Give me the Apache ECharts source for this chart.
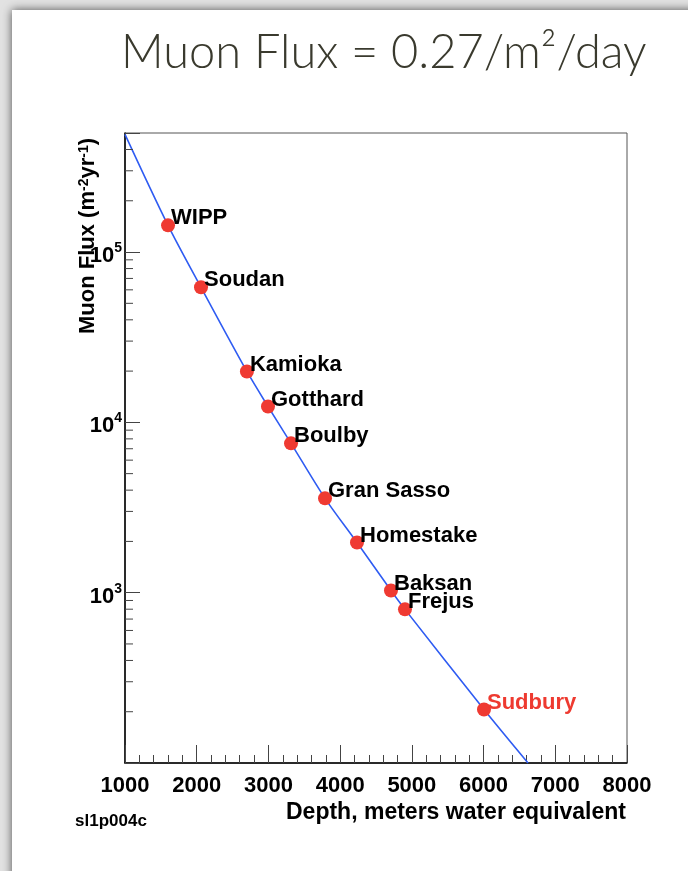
<!DOCTYPE html>
<html><head><meta charset="utf-8">
<script src="https://cdn.jsdelivr.net/npm/echarts/dist/echarts.min.js"></script>
<style>
html,body{margin:0;padding:0;background:#e2e2e2;overflow:hidden}
#card{position:absolute;left:12px;top:10px;width:720px;height:900px;background:#fff;box-shadow:0 0 9px rgba(0,0,0,0.65)}
#c{position:absolute;left:0;top:0;width:688px;height:871px}
</style>
</head><body><div id="card"></div><div id="c"></div><script>
// ---- data ----
const sites = ['WIPP','Soudan','Kamioka','Gotthard','Boulby','Gran Sasso','Homestake','Baksan','Frejus','Sudbury'];
const depthMWE = [1600, 2060, 2700, 2994, 3315, 3789, 4235, 4709, 4904, 6006];
const muonFlux = [143500, 62100, 19900, 12400, 7530, 3580, 1970, 1030, 798, 206];
const fitStart = [1000, 491000];
const fitEnd = [6620, 100];
const yMajorExp = [3, 4, 5];
const yMinorTicks = [200,300,400,500,600,700,800,900,
  2000,3000,4000,5000,6000,7000,8000,9000,
  20000,30000,40000,50000,60000,70000,80000,90000,
  200000,300000,400000];
const highlightSite = 'Sudbury';

const F = '"Liberation Sans", Arial, Helvetica, sans-serif';
const chart = echarts.init(document.getElementById('c'), null, {renderer:'canvas'});

const pts = depthMWE.map((d,i)=>({
  value:[d, muonFlux[i]], name: sites[i],
  label:{color: sites[i]===highlightSite ? '#ee3a30' : '#000'}
}));
const fitLine = [fitStart].concat(depthMWE.map((d,i)=>[d, muonFlux[i]])).concat([fitEnd]);

chart.setOption({
  backgroundColor:'transparent',
  animation:false,
  title:{
    text:'Muon Flux = 0.27/m²/day', left:116, top:24,
    textStyle:{fontFamily:'Lato, "Open Sans", sans-serif', fontWeight:300, fontSize:47, color:'#3a3a2e'}
  },
  grid:{left:125, top:133, width:502, height:630, show:true, borderColor:'#555', borderWidth:1, backgroundColor:'transparent'},
  xAxis:{
    type:'value', min:1000, max:8000, interval:1000,
    axisLine:{show:true, onZero:false, lineStyle:{color:'#000', width:1.5}},
    axisTick:{show:true, inside:true, length:18, lineStyle:{color:'#444'}},
    minorTick:{show:true, splitNumber:5, length:8, lineStyle:{color:'#444'}},
    splitLine:{show:false},
    axisLabel:{margin:12, fontFamily:F, fontWeight:'bold', fontSize:22, color:'#000',
      formatter:function(v){ return String(v); }}
  },
  yAxis:{
    type:'log', logBase:10, min:100, max:500000,
    axisLine:{show:true, lineStyle:{color:'#000', width:1.5}},
    axisTick:{show:true, inside:true, length:15, lineStyle:{color:'#444'}},
    splitLine:{show:false},
    axisLabel:{
      margin:3, fontFamily:F, fontWeight:'bold', fontSize:22, color:'#000', lineHeight:30,
      padding:[8,0,0,0],
      formatter:function(v){
        const e = Math.round(Math.log10(v));
        if (Math.abs(Math.log10(v)-e) < 1e-6 && yMajorExp.indexOf(e) >= 0) return '10{sup|' + e + '}';
        return '';
      },
      rich:{sup:{fontFamily:F, fontWeight:'bold', fontSize:14, color:'#000', verticalAlign:'top', lineHeight:14}}
    }
  },
  graphic:[
    {type:'text', x:88, y:236, rotation:Math.PI/2, silent:true,
     style:{text:'Muon Flux (m{sup|-2}yr{sup|-1})', fontFamily:F, fontWeight:'bold', fontSize:22, fill:'#000',
       align:'center', verticalAlign:'middle',
       rich:{sup:{fontFamily:F, fontWeight:'bold', fontSize:14, fill:'#000', verticalAlign:'top', lineHeight:13}}}},
    {type:'text', x:626, y:813, silent:true,
     style:{text:'Depth, meters water equivalent', fontFamily:F, fontWeight:'bold', fontSize:23, fill:'#000', align:'right', verticalAlign:'middle'}},
    {type:'text', x:75, y:821, silent:true,
     style:{text:'sl1p004c', fontFamily:F, fontWeight:'bold', fontSize:17, fill:'#000', align:'left', verticalAlign:'middle'}}
  ],
  series:[
    {type:'line', data:fitLine, smooth:0.3, showSymbol:false, symbol:'none', clip:true,
     lineStyle:{color:'#2f5cf2', width:1.6}, z:2, silent:true},
    {type:'scatter', data:pts, symbol:'circle', symbolSize:14, z:3,
     itemStyle:{color:'#ef3a32', opacity:1},
     label:{show:true, formatter:'{b}', position:[10,0], align:'left', verticalAlign:'middle',
       fontFamily:F, fontWeight:'bold', fontSize:22, color:'#000', opacity:1}},
    {type:'custom', coordinateSystem:'cartesian2d', silent:true, z:4,
     data: yMinorTicks.map(v=>[1000, v]),
     encode:{x:0, y:1},
     renderItem:function(params, api){
       const p = api.coord([api.value(0), api.value(1)]);
       return {type:'line', shape:{x1:p[0], y1:p[1], x2:p[0]+8, y2:p[1]}, style:{stroke:'#444', lineWidth:1}};
     }}
  ]
});
</script></body></html>
